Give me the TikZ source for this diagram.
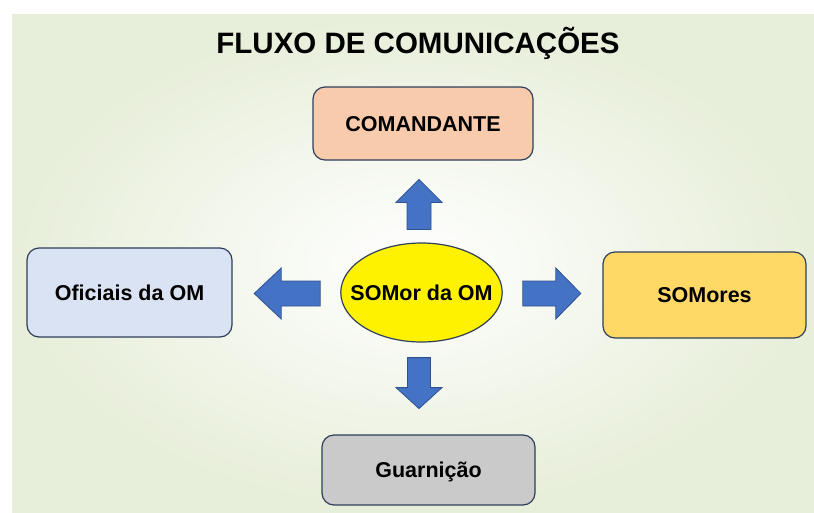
\documentclass[tikz,border=0pt]{standalone}
\usepackage{fontspec}
\setmainfont{Liberation Sans}
\usetikzlibrary{positioning,shapes.geometric}
\definecolor{slidegreen}{HTML}{E7EED9}
\definecolor{peach}{HTML}{F8CBAD}
\definecolor{paleblue}{HTML}{DAE3F3}
\definecolor{gold}{HTML}{FFD966}
\definecolor{lightgrey}{HTML}{CACACA}
\definecolor{rim}{HTML}{2F3E5A}
\definecolor{arrowblue}{HTML}{4472C4}
\definecolor{arrowrim}{HTML}{2F528F}

\begin{document}
\begin{tikzpicture}[x=1pt, y=-1pt,
                      box/.style = {shape=rectangle, rounded corners=12pt,
                        draw=rim, line width=1.2pt, align=center,
                        font=\fontsize{21.5}{24}\selectfont\bfseries,
                        text height=15.5pt, text depth=0pt, inner sep=0pt},
                      hub/.style = {shape=ellipse, draw=rim, line width=1.2pt,
                        fill=yellow, inner xsep=-14pt, inner ysep=0pt,
                        font=\fontsize{21.5}{24}\selectfont\bfseries,
                        text height=15.5pt, text depth=0pt},
                      pics/flowarrow/.style n args={4}{code={
                        \draw[fill=arrowblue, draw=arrowrim, line width=0.8pt]
                          (0,-#3) -- (#1-#2,-#3) -- (#1-#2,-#4) -- (#1,0)
                          -- (#1-#2,#4) -- (#1-#2,#3) -- (0,#3) -- cycle;}}]
                      \useasboundingbox (0,0) rectangle (814,512);
                      \fill[white] (0,0) rectangle (814,512);
                      \shade[inner color=white, outer color=slidegreen] (12,14) rectangle (814,512);
                      \node[font=\fontsize{29.5}{32}\selectfont\bfseries, anchor=base] (title) at (418,53) {FLUXO DE COMUNICAÇÕES};
                      \node[hub, minimum width=161pt, minimum height=99pt] (somor) at (421.5,292.5) {SOMor da OM};
                      \node[box, fill=peach, minimum width=220pt, minimum height=73pt] (cmt) at (423,123.5) {COMANDANTE};
                      \node[box, fill=paleblue, minimum width=205pt, minimum height=89pt] (oficiais) at (129.5,292.5) {Oficiais da OM};
                      \node[box, fill=gold, minimum width=203pt, minimum height=86pt] (somores) at (704.5,295) {SOMores};
                      \node[box, fill=lightgrey, minimum width=213pt, minimum height=70pt] (guarnicao) at (428.5,470) {Guarnição};
                      \pic[rotate=90] at ([xshift=-2.5pt, yshift=13pt]somor.north) {flowarrow={50}{23}{12}{23}};
                      \pic[rotate=-90] at ([xshift=-2.5pt, yshift=-15pt]somor.south) {flowarrow={51}{21}{11.5}{23}};
                      \pic[rotate=180] at ([xshift=-20pt, yshift=-1pt]somor.west) {flowarrow={66}{27}{12.5}{25.5}};
                      \pic at ([xshift=20pt, yshift=-1pt]somor.east) {flowarrow={58}{25}{12.5}{25.5}};
                    \end{tikzpicture}
\end{document}
